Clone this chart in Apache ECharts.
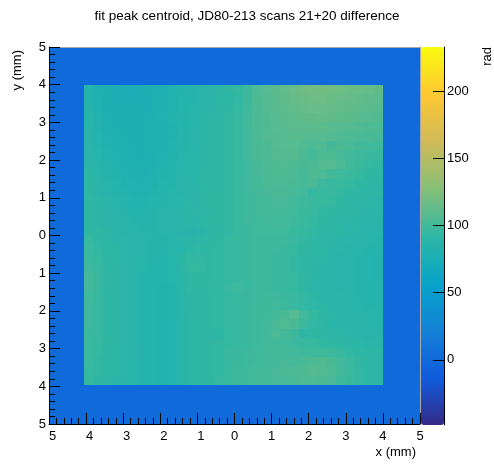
<!DOCTYPE html>
<html><head><meta charset="utf-8">
<script src="https://cdn.jsdelivr.net/npm/echarts@6/dist/echarts.min.js"></script>
<style>html,body{margin:0;padding:0;background:#fff}#c{width:494px;height:472px}</style>
</head><body><div id="c"></div>
<script>
const titleText = 'fit peak centroid, JD80-213 scans 21+20 difference';
const xAxisName = 'x (mm)';
const yAxisName = 'y (mm)';
const zAxisName = 'rad';
const tickValues = [-5, -4, -3, -2, -1, 0, 1, 2, 3, 4, 5];
const xTickLabels = ['5', '4', '3', '2', '1', '0', '1', '2', '3', '4', '5'];
const yTickLabels = ['5', '4', '3', '2', '1', '0', '1', '2', '3', '4', '5'];
const zTicks = [0, 50, 100, 150, 200];
const zRange = [-48.5, 233];
const plotRange = [-5, 5];
const backgroundValue = 0;
const regionX = [-4.07, 4.0];
const regionY = [-3.97, 4.0];
// interior values, top row first, left column first
const rows = [
[84,80,78,77,76,76,77,77,79,81,83,85,87,89,91,93,95,98,104,108,110,113,115,118,119,119,118,117,116,115,114,112],
[84,80,78,77,76,76,77,78,80,82,84,85,87,89,90,90,94,98,104,107,109,112,114,116,117,117,116,115,114,113,112,110],
[85,81,78,77,77,77,77,78,80,82,84,86,88,89,91,93,95,99,104,107,109,111,113,114,115,115,114,113,112,111,110,108],
[86,82,79,78,78,78,78,79,81,83,85,86,88,90,92,94,96,100,104,106,108,110,111,112,112,113,112,111,110,109,108,106],
[86,83,80,78,78,78,78,79,80,82,84,86,88,90,92,94,96,100,104,106,108,109,110,110,110,110,109,108,107,106,105,104],
[87,84,81,79,78,78,78,79,80,82,85,87,89,90,92,94,96,100,103,106,107,108,109,109,108,108,107,106,105,104,103,102],
[88,85,82,80,79,78,78,79,80,83,85,87,89,91,92,94,96,100,103,105,107,108,108,106,104,106,101,104,103,101,100,99],
[88,86,83,81,79,78,78,79,81,83,86,88,89,91,92,94,96,100,103,105,106,107,107,104,102,105,104,102,100,98,97,96],
[89,87,84,82,80,79,79,80,82,84,86,88,89,91,92,94,96,99,102,104,105,106,105,103,104,107,108,104,100,97,95,94],
[90,88,85,83,81,80,80,81,83,85,86,88,90,91,92,94,96,99,102,103,104,105,104,102,105,104,101,99,97,95,93,92],
[90,89,86,84,82,81,81,82,84,85,87,88,90,91,93,94,96,99,101,103,104,104,103,102,103,98,96,97,95,93,92,91],
[91,89,87,85,83,82,82,83,84,86,87,89,90,92,93,94,96,98,101,102,103,103,102,100,95,96,97,95,93,92,91,90],
[92,90,88,86,84,83,83,84,85,86,88,89,91,92,93,94,96,98,100,101,102,102,100,98,97,96,95,93,92,91,90,89],
[92,91,89,87,85,84,84,85,86,87,88,90,91,92,93,94,96,98,100,101,101,101,99,97,96,94,93,92,91,90,89,88],
[93,91,89,88,86,85,84,85,86,87,88,89,90,92,93,94,96,98,99,100,100,100,98,96,95,93,92,91,90,89,88,87],
[93,92,90,88,87,86,85,85,86,87,87,87,88,91,93,94,96,97,99,99,99,99,97,95,94,92,91,90,89,88,87,86],
[95,93,91,89,88,87,86,85,85,86,88,89,90,92,93,95,96,97,98,98,98,98,96,94,93,91,90,89,88,87,86,85],
[96,94,92,90,88,87,86,85,85,86,88,90,92,93,94,95,96,97,98,98,98,97,95,93,92,90,89,88,87,86,85,84],
[97,95,92,90,89,87,86,85,84,86,89,94,94,93,94,95,96,97,98,98,97,96,94,93,91,90,88,87,86,85,84,83],
[98,96,93,91,89,87,86,84,84,86,90,95,95,93,94,95,96,97,98,98,97,96,94,92,90,89,88,87,86,85,84,83],
[100,97,93,91,89,87,85,84,84,86,89,92,93,93,94,95,96,97,98,98,97,96,95,93,91,89,88,87,86,85,84,83],
[100,97,93,91,89,87,85,84,83,85,89,92,93,94,94,96,99,97,98,98,97,96,95,93,89,88,88,87,86,85,84,84],
[99,96,93,91,89,87,85,84,83,85,88,91,92,93,94,95,97,97,98,99,98,97,96,94,91,89,89,88,86,85,84,84],
[98,96,93,91,89,87,85,84,83,85,88,91,92,93,94,95,96,97,98,99,99,98,96,94,92,90,89,88,87,86,85,85],
[98,96,93,91,89,87,85,84,83,85,88,91,92,93,94,95,96,97,98,99,100,103,108,100,95,92,90,89,88,87,86,86],
[98,96,93,91,89,87,85,84,83,84,87,90,92,93,94,95,96,97,98,100,102,106,103,98,94,92,88,89,88,87,86,86],
[97,96,93,91,89,87,85,84,83,84,87,90,92,93,90,95,96,97,98,100,104,101,98,91,93,92,91,90,89,88,87,87],
[97,95,93,91,89,87,85,84,83,84,87,90,92,93,94,95,96,97,98,100,101,100,98,96,95,94,93,92,91,90,89,88],
[96,95,92,90,88,87,85,84,83,84,87,90,92,93,94,96,97,98,99,100,101,101,100,99,99,99,98,96,94,92,91,90],
[96,94,92,90,88,86,85,84,83,84,87,90,92,93,94,96,97,98,99,100,101,102,102,103,105,106,103,100,96,93,92,91],
[95,94,92,90,88,86,85,84,83,84,87,90,92,93,94,96,98,99,100,101,102,103,104,105,107,106,104,101,97,94,92,91],
[95,93,91,89,88,86,85,84,83,84,87,90,92,93,95,96,98,99,100,101,102,102,103,104,104,103,102,99,96,94,92,91]
];
const birdColors = ['#352a87','#0f5cdd','#1481d6','#06a4ca','#2eb7a4','#87bf77','#d1bb59','#fec832','#f9fb0e'];
const FONT = '"Liberation Sans", Arial, Helvetica, sans-serif';

const nRows = rows.length, nCols = rows[0].length;
const dx = (regionX[1] - regionX[0]) / nCols;
const dy = (regionY[1] - regionY[0]) / nRows;
const cells = [[plotRange[0], plotRange[1], plotRange[0], plotRange[1], backgroundValue]];
rows.forEach((row, r) => row.forEach((v, c) => {
  const x0 = regionX[0] + c * dx;
  const yTop = regionY[1] - r * dy;
  cells.push([x0, x0 + dx, yTop - dy, yTop, v]);
}));

function renderCell(params, api) {
  const a = api.coord([api.value(0), api.value(3)]);
  const b = api.coord([api.value(1), api.value(2)]);
  const x0 = Math.round(a[0]), y0 = Math.round(a[1]);
  const x1 = Math.round(b[0]), y1 = Math.round(b[1]);
  return {
    type: 'rect',
    shape: { x: x0, y: y0, width: x1 - x0, height: y1 - y0 },
    style: { fill: api.visual('color') }
  };
}
function labelFor(list) {
  return function (v) {
    const i = tickValues.indexOf(Math.round(v));
    return i < 0 ? '' : list[i];
  };
}
const xFmt = function (v) {
  const t = labelFor(xTickLabels)(v);
  return v < 0 ? '{neg|' + t + '}' : t;
};
const axisBase = {
  type: 'value', min: plotRange[0], max: plotRange[1], interval: 1, z: 10,
  axisLine: { show: true, onZero: false, lineStyle: { color: '#000', width: 1 } },
  axisTick: { show: true, inside: true, length: 11, lineStyle: { color: '#000', width: 1 } },
  minorTick: { show: true, splitNumber: 5, length: 6, lineStyle: { color: '#000', width: 1 } },
  splitLine: { show: false }, minorSplitLine: { show: false }
};
const frameAxis = {
  type: 'value', min: plotRange[0], max: plotRange[1], z: 9,
  axisLine: { show: true, onZero: false, lineStyle: { color: '#a8a8a8', width: 1 } },
  axisTick: { show: false }, axisLabel: { show: false }, splitLine: { show: false }
};

const chart = echarts.init(document.getElementById('c'), null, { renderer: 'canvas' });
chart.setOption({
  animation: false,
  backgroundColor: '#fff',
  title: {
    text: titleText, left: 'center', top: 9, padding: 0,
    textStyle: { fontSize: 13.5, fontWeight: 'normal', color: '#000', fontFamily: FONT }
  },
  grid: [
    { left: 49, top: 47, width: 371, height: 377, containLabel: false },
    { left: 421, top: 47, width: 23, height: 378, containLabel: false }
  ],
  xAxis: [
    Object.assign({}, axisBase, {
      gridIndex: 0, position: 'bottom',
      axisLabel: {
        margin: 6, fontSize: 13, color: '#000', fontFamily: FONT, formatter: xFmt,
        rich: { neg: { padding: [0, 0, 0, 7], fontSize: 13, color: '#000', fontFamily: FONT } }
      }
    }),
    Object.assign({}, frameAxis, { gridIndex: 0, position: 'top' }),
    { gridIndex: 1, type: 'value', min: 0, max: 1, show: false }
  ],
  yAxis: [
    Object.assign({}, axisBase, {
      gridIndex: 0, position: 'left',
      axisLabel: { margin: 3, fontSize: 13, color: '#000', fontFamily: FONT, formatter: labelFor(yTickLabels) }
    }),
    Object.assign({}, frameAxis, { gridIndex: 0, position: 'right' }),
    {
      gridIndex: 1, type: 'value', min: zRange[0], max: zRange[1], position: 'right', z: 10,
      axisLine: { show: true, onZero: false, lineStyle: { color: '#000', width: 1 } },
      axisTick: { show: true, inside: true, length: 11, customValues: zTicks, lineStyle: { color: '#000' } },
      axisLabel: { show: true, margin: 3, customValues: zTicks, fontSize: 13, color: '#000', fontFamily: FONT },
      splitLine: { show: false }
    }
  ],
  visualMap: {
    type: 'continuous', min: zRange[0], max: zRange[1], dimension: 4, seriesIndex: 0,
    calculable: false, hoverLink: false, left: 421, top: 47, itemWidth: 23, itemHeight: 378,
    padding: 0, orient: 'vertical', inRange: { color: birdColors }
  },
  series: [{
    type: 'custom', xAxisIndex: 0, yAxisIndex: 0, clip: true,
    encode: { x: [0, 1], y: [2, 3] },
    renderItem: renderCell, data: cells, silent: true
  }],
  graphic: [
    { type: 'text', x: 416, y: 452, style: { text: xAxisName, align: 'right', verticalAlign: 'middle', fontSize: 13, fontFamily: FONT, fill: '#000' } },
    { type: 'text', x: 17.5, y: 50, rotation: Math.PI / 2, style: { text: yAxisName, align: 'right', verticalAlign: 'middle', fontSize: 13, fontFamily: FONT, fill: '#000' } },
    { type: 'text', x: 487.5, y: 47, rotation: Math.PI / 2, style: { text: zAxisName, align: 'right', verticalAlign: 'middle', fontSize: 13, fontFamily: FONT, fill: '#000' } }
  ]
});
</script>
</body></html>
